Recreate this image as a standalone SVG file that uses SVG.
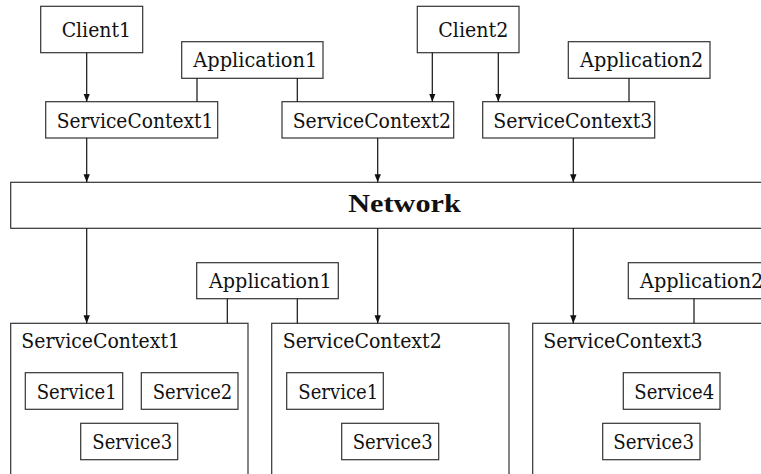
<svg xmlns="http://www.w3.org/2000/svg" width="761" height="474" viewBox="0 0 761 474">
<style>
.box{fill:#fff;stroke:#333;stroke-width:1.2}
.t{font-family:"DejaVu Serif",serif;font-size:20.5px;fill:#111}
.b{font-family:"Liberation Serif","DejaVu Serif",serif;font-size:25px;font-weight:bold;fill:#111}
.c{stroke:#111;stroke-width:1.2;fill:none}
</style>
<defs>
<marker id="ah" markerWidth="8" markerHeight="8" viewBox="0 0 8 8" refX="8" refY="4" orient="auto" markerUnits="userSpaceOnUse">
<path d="M0,0.8 L8,4 L0,7.2 Z" fill="#111"/>
</marker>
</defs>
<rect width="761" height="474" fill="#fff"/>

<g id="network"><rect class="box" x="10.7" y="182.3" width="770" height="46"/><text class="b" x="348.3" y="212.3" textLength="112.4" lengthAdjust="spacingAndGlyphs">Network</text></g>

<g id="client1"><rect class="box" x="40.7" y="6.3" width="102" height="46.4"/><text class="t" x="61.7" y="36.7" textLength="69.3" lengthAdjust="spacingAndGlyphs">Client1</text></g>
<g id="client2"><rect class="box" x="417.3" y="6.3" width="101.7" height="46.4"/><text class="t" x="438.3" y="36.7" textLength="70" lengthAdjust="spacingAndGlyphs">Client2</text></g>
<g id="app1top"><rect class="box" x="181.7" y="41.7" width="141.3" height="36.6"/><text class="t" x="193.3" y="66.7" textLength="124" lengthAdjust="spacingAndGlyphs">Application1</text></g>
<g id="app2top"><rect class="box" x="568.3" y="41.7" width="141.7" height="36.6"/><text class="t" x="580" y="66.7" textLength="123.3" lengthAdjust="spacingAndGlyphs">Application2</text></g>
<g id="sc1top"><rect class="box" x="45.7" y="101.7" width="172" height="36.3"/><text class="t" x="56.7" y="128.3" textLength="156.6" lengthAdjust="spacingAndGlyphs">ServiceContext1</text></g>
<g id="sc2top"><rect class="box" x="282" y="101.7" width="171.7" height="36.3"/><text class="t" x="292.7" y="128.3" textLength="158.3" lengthAdjust="spacingAndGlyphs">ServiceContext2</text></g>
<g id="sc3top"><rect class="box" x="482.7" y="101.7" width="172" height="36.3"/><text class="t" x="493.3" y="128.3" textLength="159" lengthAdjust="spacingAndGlyphs">ServiceContext3</text></g>

<g id="app1low"><rect class="box" x="196.7" y="262.7" width="141.6" height="36"/><text class="t" x="209" y="287.7" textLength="122.7" lengthAdjust="spacingAndGlyphs">Application1</text></g>
<g id="app2low"><rect class="box" x="628.3" y="262.7" width="141.7" height="36"/><text class="t" x="640" y="287.7" textLength="123.3" lengthAdjust="spacingAndGlyphs">Application2</text></g>

<g id="sc1"><rect class="box" x="10.7" y="323.3" width="237.3" height="170"/><text class="t" x="21.3" y="347.7" textLength="158.7" lengthAdjust="spacingAndGlyphs">ServiceContext1</text>
<g id="sc1-service1"><rect class="box" x="25.3" y="372.7" width="97.4" height="36.6"/><text class="t" x="36.7" y="399.3" textLength="80" lengthAdjust="spacingAndGlyphs">Service1</text></g>
<g id="sc1-service2"><rect class="box" x="141.3" y="372.7" width="96.7" height="36.6"/><text class="t" x="152.7" y="399.3" textLength="79.6" lengthAdjust="spacingAndGlyphs">Service2</text></g>
<g id="sc1-service3"><rect class="box" x="80.7" y="423.3" width="97" height="36.4"/><text class="t" x="92.3" y="449.3" textLength="80" lengthAdjust="spacingAndGlyphs">Service3</text></g>
</g>
<g id="sc2"><rect class="box" x="271.7" y="323.3" width="237.3" height="170"/><text class="t" x="282.7" y="347.7" textLength="159" lengthAdjust="spacingAndGlyphs">ServiceContext2</text>
<g id="sc2-service1"><rect class="box" x="286.7" y="372.7" width="96.6" height="36.6"/><text class="t" x="298.3" y="399.3" textLength="80" lengthAdjust="spacingAndGlyphs">Service1</text></g>
<g id="sc2-service3"><rect class="box" x="341.7" y="423.3" width="97" height="36.4"/><text class="t" x="352.7" y="449.3" textLength="80" lengthAdjust="spacingAndGlyphs">Service3</text></g>
</g>
<g id="sc3"><rect class="box" x="532.7" y="323.3" width="260" height="170"/><text class="t" x="543.3" y="347.7" textLength="159.4" lengthAdjust="spacingAndGlyphs">ServiceContext3</text>
<g id="sc3-service4"><rect class="box" x="623.3" y="372.7" width="96.7" height="36.6"/><text class="t" x="634.3" y="399.3" textLength="80" lengthAdjust="spacingAndGlyphs">Service4</text></g>
<g id="sc3-service3"><rect class="box" x="602.7" y="423.3" width="97.3" height="36.4"/><text class="t" x="613.3" y="449.3" textLength="80.7" lengthAdjust="spacingAndGlyphs">Service3</text></g>
</g>

<g id="connectors">
<line class="c" x1="86.7" y1="52.7" x2="86.7" y2="101.7" marker-end="url(#ah)"/>
<line class="c" x1="432.3" y1="52.7" x2="432.3" y2="101.7" marker-end="url(#ah)"/>
<line class="c" x1="498.3" y1="52.7" x2="498.3" y2="101.7" marker-end="url(#ah)"/>
<line class="c" x1="197" y1="78.3" x2="197" y2="101.7"/>
<line class="c" x1="297.3" y1="78.3" x2="297.3" y2="101.7"/>
<line class="c" x1="629" y1="78.3" x2="629" y2="101.7"/>
<line class="c" x1="86.7" y1="138" x2="86.7" y2="182.3" marker-end="url(#ah)"/>
<line class="c" x1="377.7" y1="138" x2="377.7" y2="182.3" marker-end="url(#ah)"/>
<line class="c" x1="573.3" y1="138" x2="573.3" y2="182.3" marker-end="url(#ah)"/>
<line class="c" x1="86.7" y1="228.3" x2="86.7" y2="323.3" marker-end="url(#ah)"/>
<line class="c" x1="377.7" y1="228.3" x2="377.7" y2="323.3" marker-end="url(#ah)"/>
<line class="c" x1="573.3" y1="228.3" x2="573.3" y2="323.3" marker-end="url(#ah)"/>
<line class="c" x1="227.3" y1="298.7" x2="227.3" y2="323.3"/>
<line class="c" x1="297.3" y1="298.7" x2="297.3" y2="323.3"/>
<line class="c" x1="694" y1="298.7" x2="694" y2="323.3"/>
</g>
</svg>
